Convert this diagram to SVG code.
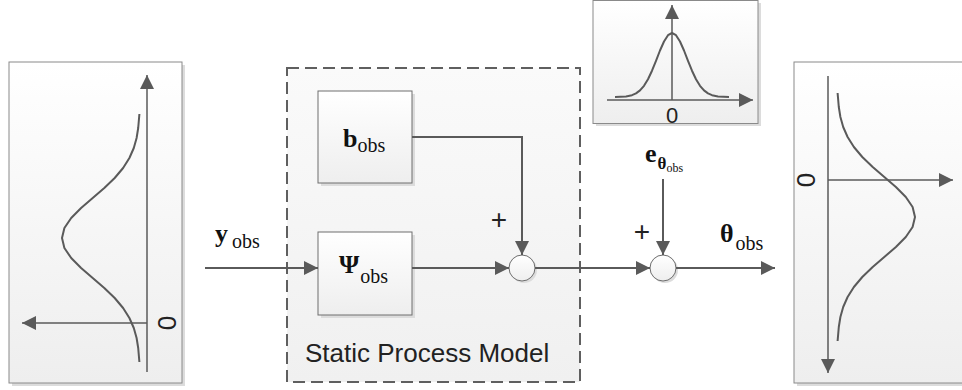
<svg xmlns="http://www.w3.org/2000/svg" width="962" height="390" viewBox="0 0 962 390">
  <style>
    .panel { fill: url(#panelFill); stroke: #8a8a8a; stroke-width: 1; }
    .shadow { fill: #dcdcdc; }
    .block { fill: url(#panelFill); stroke: #6e6e6e; stroke-width: 1; }
    .sum { fill: url(#panelFill); stroke: #6e6e6e; stroke-width: 1; }
    .wire { fill: none; stroke: #5a5a5a; stroke-width: 2; marker-end: url(#head); }
    .axis { fill: none; stroke: #5a5a5a; stroke-width: 1.5; marker-end: url(#head); }
    .curve { fill: none; stroke: #5a5a5a; stroke-width: 2; stroke-linejoin: round; }
    .math { font-family: "Liberation Serif", "Times New Roman", serif; fill: #111; }
    .bold { font-weight: bold; }
    .sans { font-family: "Liberation Sans", Arial, sans-serif; fill: #222; }
  </style>
  <defs>
    <linearGradient id="panelFill" x1="0" y1="0" x2="0" y2="1">
      <stop offset="0" stop-color="#ffffff"/>
      <stop offset="1" stop-color="#eeeeee"/>
    </linearGradient>
    <linearGradient id="modelFill" x1="0" y1="0" x2="0" y2="1">
      <stop offset="0" stop-color="#fafafa"/>
      <stop offset="1" stop-color="#f0f0f0"/>
    </linearGradient>
    <marker id="head" markerUnits="userSpaceOnUse" markerWidth="16" markerHeight="16" refX="14" refY="7" orient="auto">
      <path d="M0,0 L14,7 L0,14 z" fill="#5a5a5a"/>
    </marker>
  </defs>

  <!-- input distribution panel -->
  <g id="input-distribution">
    <rect class="shadow" x="12" y="65" width="173" height="321"/>
    <rect class="panel" x="9" y="62" width="173" height="321"/>
    <line class="axis" x1="147" y1="372" x2="147" y2="75"/>
    <line class="axis" x1="147" y1="323" x2="22" y2="323"/>
    <polyline class="curve" points="139.4,114 138.2,128 136.6,138 133.8,148 129.4,158 123.1,168 114.7,178 104.3,188 92.7,198 81.1,208 71.2,218 64.4,228 62,238 64.4,248 71.2,258 81.1,268 92.7,278 104.3,288 114.7,298 123.1,308 129.4,318 133.8,328 136.6,338 138.2,348 139.4,362"/>
    <text class="sans" font-size="26" text-anchor="middle" transform="translate(167,323) rotate(90)" dy="9.5">0</text>
  </g>

  <!-- static process model container -->
  <g id="static-process-model">
    <rect x="287" y="68" width="293" height="314" fill="url(#modelFill)" stroke="#5f5f5f" stroke-width="2" stroke-dasharray="12 6"/>
    <text class="sans" x="305" y="362" font-size="26">Static Process Model</text>
  </g>

  <g id="bias-block">
    <rect class="shadow" x="321" y="94" width="94" height="92"/>
    <rect class="block" x="318" y="91" width="94" height="92"/>
    <text class="math" x="343" y="147"><tspan class="bold" font-size="26">b</tspan><tspan font-size="20" dy="5">obs</tspan></text>
  </g>

  <g id="psi-block">
    <rect class="shadow" x="321" y="235" width="94" height="83"/>
    <rect class="block" x="318" y="232" width="94" height="83"/>
    <text class="math" x="339" y="273"><tspan class="bold" font-size="26">Ψ</tspan><tspan font-size="20" dx="1" dy="10">obs</tspan></text>
  </g>

  <g id="sum-1">
    <circle class="shadow" cx="524" cy="270" r="13"/>
    <circle class="sum" cx="522" cy="268" r="13"/>
  </g>

  <g id="sum-2">
    <circle class="shadow" cx="665" cy="270" r="13"/>
    <circle class="sum" cx="663" cy="268" r="13"/>
  </g>

  <!-- noise distribution panel -->
  <g id="noise-distribution">
    <rect class="shadow" x="596" y="3" width="165" height="123"/>
    <rect class="panel" x="593" y="0.5" width="165" height="123"/>
    <line class="axis" x1="672" y1="100" x2="672" y2="5"/>
    <line class="axis" x1="607" y1="100" x2="753" y2="100"/>
    <polyline class="curve" points="615,97 626,96.4 632,95.2 636,93.4 640,90.4 644,85.8 648,79.2 652,70.7 656,60.8 660,50.5 664,41.5 668,35.2 672,33 676,35.2 680,41.5 684,50.5 688,60.8 692,70.7 696,79.2 700,85.8 704,90.4 708,93.4 712,95.2 718,96.4 729,97"/>
    <text class="sans" x="672" y="123" font-size="22" text-anchor="middle">0</text>
  </g>

  <!-- output distribution panel -->
  <g id="output-distribution">
    <rect class="shadow" x="797" y="65" width="200" height="321"/>
    <rect class="panel" x="794" y="62" width="200" height="321"/>
    <line class="axis" x1="828" y1="76" x2="828" y2="373"/>
    <line class="axis" x1="828" y1="180" x2="953" y2="180"/>
    <polyline class="curve" points="837.6,93 838.8,107 840.4,117 843.2,127 847.6,137 853.9,147 862.3,157 872.7,167 884.3,177 895.9,187 905.8,197 912.6,207 915,217 912.6,227 905.8,237 895.9,247 884.3,257 872.7,267 862.3,277 853.9,287 847.6,297 843.2,307 840.4,317 838.8,327 837.6,341"/>
    <text class="sans" font-size="26" text-anchor="middle" transform="translate(805,180) rotate(-90)" dy="9.5">0</text>
  </g>

  <!-- signal labels -->
  <g id="labels">
    <text class="math" x="215" y="242"><tspan class="bold" font-size="26">y</tspan><tspan font-size="20" dx="4" dy="6">obs</tspan></text>
    <text class="math" x="720" y="242"><tspan class="bold" font-size="26">θ</tspan><tspan font-size="20" dx="2" dy="8">obs</tspan></text>
    <text class="math" x="645" y="162"><tspan class="bold" font-size="26">e</tspan><tspan class="bold" font-size="17" dx="1" dy="7">θ</tspan><tspan font-size="12" dy="3">obs</tspan></text>
    <text class="sans" x="499" y="229" font-size="28" text-anchor="middle">+</text>
    <text class="sans" x="642" y="241" font-size="28" text-anchor="middle">+</text>
  </g>

  <!-- signal flow -->
  <g id="connectors">
    <line class="wire" x1="205" y1="268" x2="318" y2="268"/>
    <line class="wire" x1="412" y1="268" x2="509" y2="268"/>
    <path class="wire" d="M412,137 H522 V255"/>
    <line class="wire" x1="535" y1="268" x2="650" y2="268"/>
    <line class="wire" x1="663" y1="179" x2="663" y2="255"/>
    <line class="wire" x1="676" y1="268" x2="775" y2="268"/>
  </g>
</svg>
